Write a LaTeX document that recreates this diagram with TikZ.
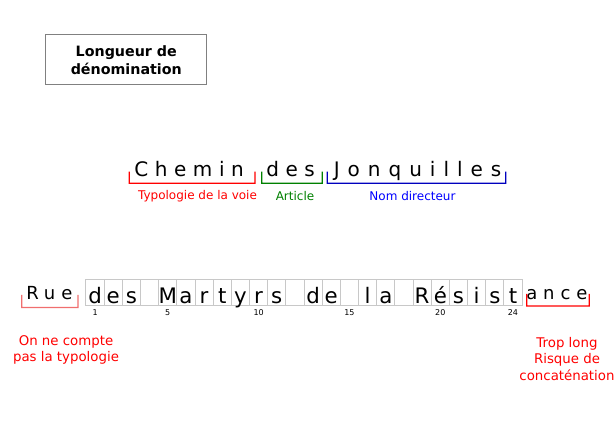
\documentclass[tikz,border=0pt]{standalone}
\usepackage{fontspec}
\setmainfont{DejaVu Sans}
\newfontfamily\spacedfont[LetterSpace=33]{DejaVu Sans}
\newfontfamily\widespacedfont[LetterSpace=40]{DejaVu Sans}
\definecolor{lred}{RGB}{255,0,0}
\definecolor{lgreen}{RGB}{0,128,0}
\definecolor{lblue}{RGB}{0,0,255}
\definecolor{bblue}{RGB}{0,0,190}
\definecolor{pinkred}{RGB}{240,110,110}
\definecolor{cellgray}{RGB}{200,200,200}
% bracket drawn as a filled outline: colour, x left, x right, y top, y bottom
\newcommand{\mybracket}[5]{%
  \fill[#1] ({#2-0.6},#4) -- ({#2-0.6},{#5+0.6}) -- ({#3+0.6},{#5+0.6}) -- ({#3+0.6},#4)
    -- ({#3-0.6},#4) -- ({#3-0.6},{#5-0.6}) -- ({#2+0.6},{#5-0.6}) -- ({#2+0.6},#4) -- cycle;}
\begin{document}
\begin{tikzpicture}[x=0.75pt,y=-0.75pt,
  cellbox/.style={draw=cellgray, line width=0.75pt, minimum width=13.63pt, minimum height=19.5pt, inner sep=0pt},
  cellletter/.style={inner sep=0pt, anchor=base, font=\fontsize{16}{18}\selectfont},
  cellnum/.style={inner sep=0pt, font=\fontsize{6}{7}\selectfont},
  bigword/.style={inner sep=0pt, anchor=base west, font=\fontsize{15}{18}\spacedfont},
  midword/.style={inner sep=0pt, anchor=base west, font=\fontsize{13.5}{16}\spacedfont},
  lbl/.style={inner sep=0pt, font=\fontsize{9}{11}\selectfont},
  note/.style={inner sep=0pt, align=center, text=lred, font=\fontsize{10}{12.6}\selectfont}
]
\useasboundingbox (0,0) rectangle (615,442);

% title box
\node[draw=black!50, line width=0.75pt, minimum width=120.5pt, minimum height=37.5pt, align=center,
  font=\fontsize{10.7}{13.5}\bfseries, inner sep=0pt] (title) at (126.3,60) {Longueur de\\dénomination};

% Chemin des Jonquilles
\node[bigword] (w1) at (134,177) {Chemin};
\node[bigword] (w2) at (266,177) {des};
\node[bigword, font=\fontsize{15}{18}\widespacedfont] (w3) at (333.5,177) {Jonquilles};
\mybracket{lred}{129.3}{255}{171.7}{183.3}
\mybracket{lgreen}{261.7}{322.3}{171.7}{183.3}
\mybracket{bblue}{327.3}{505.7}{171.7}{183.3}
\node[lbl, text=lred] (l1) at (197.5,196) {Typologie de la voie};
\node[lbl, text=lgreen] (l2) at (295,196) {Article};
\node[lbl, text=lblue] (l3) at (412.5,196) {Nom directeur};

% Rue ... ance
\node[midword] (rue) at (26,299.5) {Rue};
\mybracket{pinkred}{21.7}{78}{295}{307.5}
\node[midword] (ance) at (526,300) {ance};
\mybracket{lred}{526.7}{589.3}{294}{306}

% cells
\foreach \c [count=\i] in {d,e,s,{},M,a,r,t,y,r,s,{},d,e,{},l,a,{},R,é,s,i,s,t} {
  \node[cellbox] (c\i) at ({86+18.17*(\i-1)+9.085},293) {};
  \node[cellletter] (t\i) at ({86+18.17*(\i-1)+9.085},303.5) {\c};
}
\foreach \i in {1,5,10,15,20,24} {
  \node[cellnum] (n\i) at ({86+18.17*(\i-1)+9.085},312.5) {\i};
}

% notes
\node[note] (noteL) at (66,350) {On ne compte\\pas la typologie};
\node[note] (noteR) at (567,359) {Trop long\\Risque de\\concaténation};
\end{tikzpicture}
\end{document}
